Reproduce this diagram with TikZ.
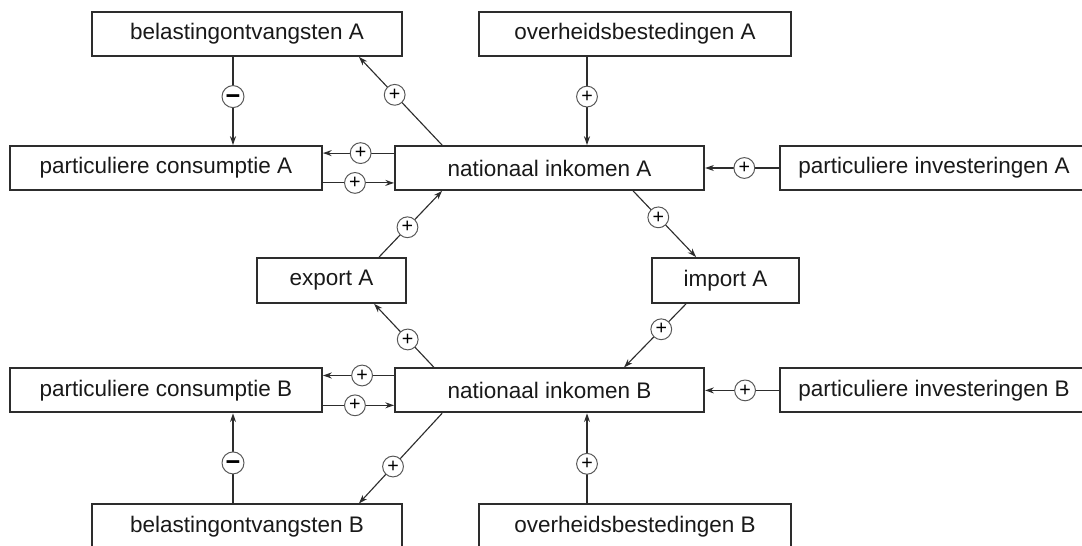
\documentclass[tikz,border=0pt]{standalone}
\usepackage{fontspec}
\setmainfont{Liberation Sans}
\usetikzlibrary{arrows.meta, calc}
\definecolor{lijn}{RGB}{45, 45, 45}

\tikzset{
  box/.style={draw=lijn, line width=1.3pt, minimum height=1.1cm, inner sep=0pt,
    font=\fontsize{16}{19}\selectfont, text=black!90},
  arr/.style={draw=lijn, line width=0.8pt, -{Stealth[length=2.2mm, width=1.5mm]}},
  sign/.style={circle, draw=lijn!80, line width=0.7pt, fill=white, minimum size=0.52cm,
    inner sep=0pt, font=\fontsize{14}{14}\selectfont, pos=0.45},
  minsign/.style={sign, minimum size=0.55cm, font=\fontsize{18}{18}\bfseries,
    text height=10.6pt, text depth=0pt},
}

\begin{document}
\begin{tikzpicture}
  \useasboundingbox (0,0) rectangle (27.05,-13.625);

  % Land A
  \node[box, minimum width=7.75cm] (belA) at (6.175,-0.85) {belastingontvangsten A};
  \node[box, minimum width=7.8cm] (ovhA) at (15.875,-0.85) {overheidsbestedingen A};
  \node[box, minimum width=7.8cm] (consA) at (4.15,-4.2) {particuliere consumptie A};
  \node[box, minimum width=7.73cm] (natA) at (13.74,-4.2) {nationaal inkomen A};
  \node[box, minimum width=7.7cm] (invA) at (23.35,-4.2) {particuliere investeringen A};

  % Handel
  \node[box, minimum width=3.73cm, minimum height=1.125cm] (expA) at (8.29,-7.01) {export A};
  \node[box, minimum width=3.68cm, minimum height=1.125cm] (impA) at (18.14,-7.01) {import A};

  % Land B
  \node[box, minimum width=7.8cm] (consB) at (4.15,-9.76) {particuliere consumptie B};
  \node[box, minimum width=7.73cm] (natB) at (13.74,-9.76) {nationaal inkomen B};
  \node[box, minimum width=7.7cm] (invB) at (23.35,-9.76) {particuliere investeringen B};
  \node[box, minimum width=7.75cm] (belB) at (6.175,-13.16) {belastingontvangsten B};
  \node[box, minimum width=7.8cm] (ovhB) at (15.875,-13.16) {overheidsbestedingen B};

  % Verbanden A
  \draw[arr] ([xshift=-3.5mm]belA.south) -- node[minsign]{−} ([xshift=-3.5mm]belA.south |- consA.north);
  \draw[arr] ([xshift=1.2cm]natA.north west) -- node[sign, pos=0.57]{+} ([xshift=-1.1cm]belA.south east);
  \draw[arr] ([xshift=-1.2cm]ovhA.south) -- node[sign]{+} ([xshift=-1.2cm]ovhA.south |- natA.north);
  \draw[arr] ([yshift=-2mm]natA.north west) -- node[sign, pos=0.47]{+} ([yshift=-2mm]natA.north west -| consA.east);
  \draw[arr] ([yshift=2mm]consA.south east) -- node[sign]{+} ([yshift=2mm]consA.south east -| natA.west);
  \draw[arr] (invA.west) -- node[sign, pos=0.47]{+} (natA.east);

  % Verbanden handel
  \draw[arr] ([xshift=-1.8cm]natA.south east) -- node[sign, pos=0.4]{+} ([xshift=1.125cm]impA.north west);
  \draw[arr] ([xshift=-0.7cm]expA.north east) -- node[sign]{+} ([xshift=1.2cm]natA.south west);
  \draw[arr] ([xshift=0.875cm]impA.south west) -- node[sign, pos=0.4]{+} ([xshift=1.86cm]natB.north);
  \draw[arr] ([xshift=1cm]natB.north west) -- node[sign, pos=0.44]{+} ([xshift=-0.825cm]expA.south east);

  % Verbanden B
  \draw[arr] ([yshift=-2mm]natB.north west) -- node[sign]{+} ([yshift=-2mm]natB.north west -| consB.east);
  \draw[arr] ([yshift=2mm]consB.south east) -- node[sign]{+} ([yshift=2mm]consB.south east -| natB.west);
  \draw[arr] ([xshift=-3.5mm]belB.north) -- node[minsign]{−} ([xshift=-3.5mm]belB.north |- consB.south);
  \draw[arr] ([xshift=1.2cm]natB.south west) -- node[sign, pos=0.59]{+} ([xshift=-1.1cm]belB.north east);
  \draw[arr] ([xshift=-1.2cm]ovhB.north) -- node[sign, pos=0.44]{+} ([xshift=-1.2cm]ovhB.north |- natB.south);
  \draw[arr] (invB.west) -- node[sign, pos=0.46]{+} (natB.east);
\end{tikzpicture}
\end{document}
